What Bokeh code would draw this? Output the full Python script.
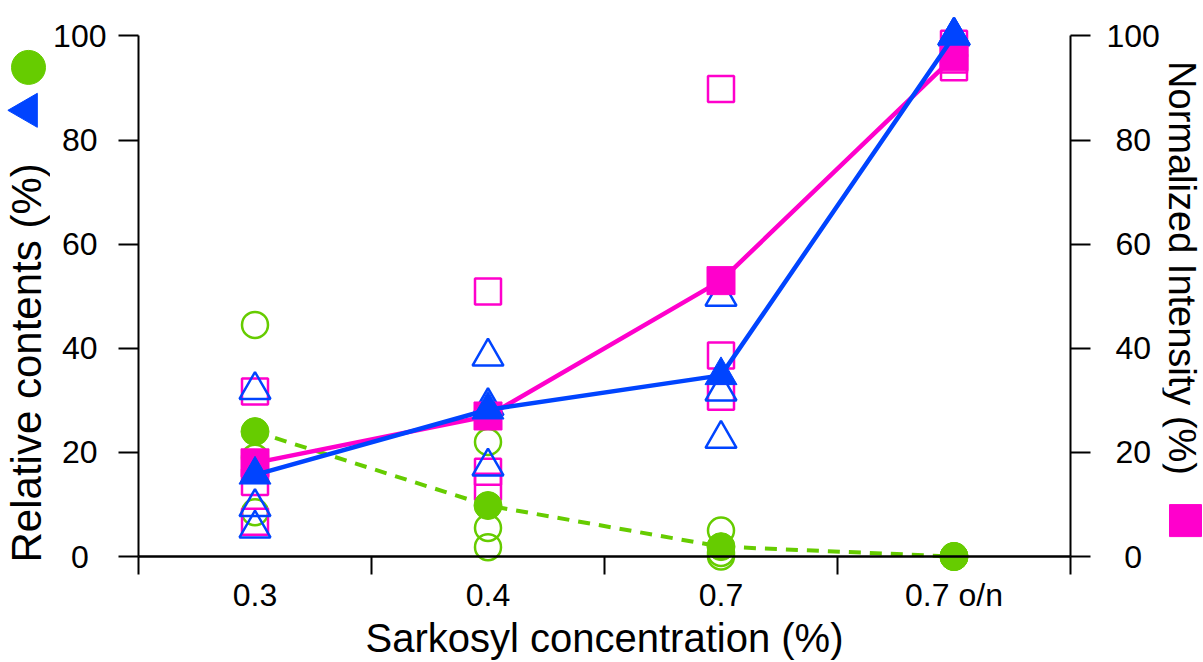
import math
from bokeh.plotting import figure
from bokeh.layouts import row
from bokeh.models import Range1d, LinearAxis, FixedTicker, Span
from bokeh.core.properties import value
from bokeh.embed import file_html
from bokeh.resources import INLINE

# ---------------- data ----------------
categories = ["0.3", "0.4", "0.7", "0.7 o/n"]

# individual measurements (open symbols)
circ_open_cat = ["0.3", "0.3", "0.3", "0.4", "0.4", "0.4", "0.7", "0.7", "0.7", "0.7 o/n", "0.7 o/n", "0.7 o/n"]
circ_open_val = [44.5, 19.0, 8.5, 22.0, 5.5, 1.8, 5.0, 0.7, 0.0, 0.0, 0.0, 0.0]

sq_open_cat = ["0.3", "0.3", "0.3", "0.4", "0.4", "0.4", "0.7", "0.7", "0.7", "0.7 o/n", "0.7 o/n", "0.7 o/n"]
sq_open_val = [31.7, 14.3, 6.7, 50.9, 16.3, 13.4, 89.8, 38.6, 30.7, 98.5, 95.5, 94.0]

tri_open_cat = ["0.3", "0.3", "0.3", "0.4", "0.4", "0.4", "0.7", "0.7", "0.7", "0.7 o/n", "0.7 o/n", "0.7 o/n"]
tri_open_val = [32.0, 9.5, 5.4, 38.4, 28.9, 17.3, 49.9, 31.7, 22.6, 100.0, 100.0, 100.0]

# means (filled symbols)
circ_mean = [24.0, 9.8, 1.9, 0.0]
sq_mean = [18.0, 27.0, 53.0, 96.0]
tri_mean = [15.7, 28.2, 34.8, 100.0]

y_ticks = [0, 20, 40, 60, 80, 100]

x_title = "Sarkosyl concentration (%)"
left_title = "Relative contents (%)"
right_title = "Normalized Intensity (%)"

GREEN = "#66CC00"
MAGENTA = "#FF00CC"
BLUE = "#0044FF"
FONT = "Liberation Sans"
TICK_FS = "32px"

H = 662
LW, MW, RW = 50, 1112, 41
TOP, BOTTOM = 10, 87          # borders of the (shared) plot frame


def pos(cats):
    return [categories.index(c) + 0.5 for c in cats]


cat_x = pos(categories)

# ---------------- main chart ----------------
p_main = figure(width=MW, height=H,
                x_range=Range1d(0, 4), y_range=Range1d(-3.45, 104.89),
                output_backend="svg", toolbar_location=None,
                min_border_left=86, min_border_right=92,
                min_border_top=TOP, min_border_bottom=BOTTOM)
p_main.outline_line_color = None
p_main.xgrid.visible = False
p_main.ygrid.visible = False

# open symbols
p_main.scatter(pos(circ_open_cat), circ_open_val, marker="circle", size=26,
               fill_color=None, line_color=GREEN, line_width=2.5)
p_main.scatter(pos(sq_open_cat), sq_open_val, marker="square", size=26,
               fill_color=None, line_color=MAGENTA, line_width=2.5)
p_main.scatter(pos(tri_open_cat), tri_open_val, marker="triangle", size=31,
               fill_color=None, line_color=BLUE, line_width=2.5)

# means
p_main.line(cat_x, circ_mean, line_color=GREEN, line_width=4, line_dash="12 9")
p_main.scatter(cat_x, circ_mean, marker="circle", size=28,
               fill_color=GREEN, line_color=GREEN, line_width=1)
p_main.line(cat_x, sq_mean, line_color=MAGENTA, line_width=4.5)
p_main.scatter(cat_x, sq_mean, marker="square", size=28,
               fill_color=MAGENTA, line_color=MAGENTA, line_width=1)
p_main.line(cat_x, tri_mean, line_color=BLUE, line_width=4.5)
p_main.scatter(cat_x, tri_mean, marker="triangle", size=32,
               fill_color=BLUE, line_color=BLUE, line_width=1)

# x axis line at y = 0
p_main.add_layout(Span(location=0, dimension="width", line_color="black", line_width=2.5))

# bottom axis
xa = p_main.xaxis[0]
xa.ticker = FixedTicker(ticks=cat_x, minor_ticks=[0, 1, 2, 3, 4])
xa.major_label_overrides = {x: c for x, c in zip(cat_x, categories)}
xa.axis_line_color = None
xa.major_tick_in = 0
xa.major_tick_out = 0
xa.minor_tick_in = 18
xa.minor_tick_out = 0
xa.minor_tick_line_color = "black"
xa.minor_tick_line_width = 2
xa.major_label_text_font = FONT
xa.major_label_text_font_size = TICK_FS
xa.major_label_text_color = "black"
xa.major_label_standoff = 2
xa.axis_label = x_title
xa.axis_label_text_font = FONT
xa.axis_label_text_font_size = "40px"
xa.axis_label_text_font_style = "normal"
xa.axis_label_text_color = "black"
xa.axis_label_standoff = 0

# left axis
ya = p_main.yaxis[0]
ya.ticker = FixedTicker(ticks=y_ticks, minor_ticks=[])
ya.bounds = (0, 100)
ya.major_label_overrides = {0: "0\u2007", 20: "20\u2008", 40: "40\u2008",
                            60: "60\u2008", 80: "80\u2008", 100: "100"}
ra = LinearAxis(ticker=FixedTicker(ticks=y_ticks, minor_ticks=[]), bounds=(0, 100))
ra.major_label_overrides = {0: "\u20070", 20: "\u200820", 40: "\u200840",
                            60: "\u200860", 80: "\u200880", 100: "100"}
p_main.add_layout(ra, "right")
for ax, so in ((ya, 12), (ra, 16)):
    ax.axis_line_color = "black"
    ax.axis_line_width = 2
    ax.major_tick_line_color = "black"
    ax.major_tick_line_width = 2
    ax.major_tick_in = 0
    ax.major_tick_out = 20
    ax.minor_tick_line_color = None
    ax.major_label_text_font = FONT
    ax.major_label_text_font_size = TICK_FS
    ax.major_label_text_color = "black"
    ax.major_label_standoff = so


# ---------------- side strips carrying the vertical titles + symbol keys ----------------
# (their frames are aligned with the main frame, so y data = H - page pixel)
def strip(width):
    f = figure(width=width, height=H, x_range=Range1d(0, width),
               y_range=Range1d(BOTTOM, H - TOP),
               output_backend="svg", toolbar_location=None,
               x_axis_location=None, y_axis_location=None,
               min_border_left=0, min_border_right=0,
               min_border_top=TOP, min_border_bottom=BOTTOM)
    f.outline_line_color = None
    f.grid.visible = False
    return f


p_left = strip(LW)
p_left.text(x=[26], y=[H - 363], text=[left_title], angle=math.pi / 2,
            text_font=value(FONT), text_font_size=value("42px"), text_color="black",
            text_align="center", text_baseline="middle")
p_left.scatter(x=[28], y=[H - 67], marker="circle", size=34,
               fill_color=GREEN, line_color=GREEN)
p_left.scatter(x=[27], y=[H - 110], marker="triangle", size=34, angle=math.pi / 2,
               fill_color=BLUE, line_color=BLUE)

p_right = strip(RW)
p_right.text(x=[19], y=[H - 268], text=[right_title], angle=-math.pi / 2,
             text_font=value(FONT), text_font_size=value("38px"), text_color="black",
             text_align="center", text_baseline="middle")
p_right.scatter(x=[23], y=[H - 521], marker="square", size=32,
                fill_color=MAGENTA, line_color=MAGENTA)

p = row(p_left, p_main, p_right)

open("out.html", "w").write(file_html(p, INLINE))
